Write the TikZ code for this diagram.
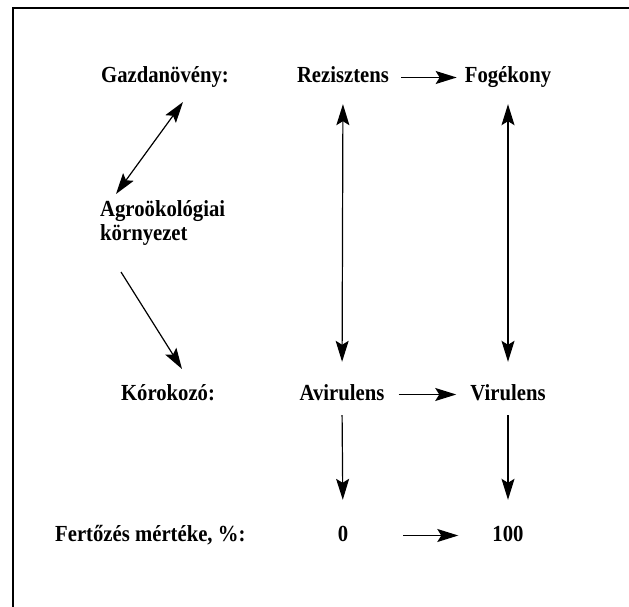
\documentclass[tikz,border=0pt]{standalone}
\usepackage{fontspec}
\setmainfont[FakeStretch=0.9]{Liberation Serif}
\usetikzlibrary{arrows.meta}
\begin{document}
\begin{tikzpicture}[x=1pt,y=-1pt,
  lbl/.style={font=\fontsize{23}{26}\selectfont\bfseries, inner sep=0pt, text height=16pt, text depth=5pt},
  bighead/.tip={Stealth[length=21pt,width=13pt,inset=4pt]},
  conn/.style={line width=1.2pt, -bighead},
  dconn/.style={line width=1.2pt, bighead-bighead},
  frame/.style={line width=2.5pt}]
\useasboundingbox (0,0) rectangle (629,607);
\coordinate (fa) at (12,8);
\coordinate (fb) at (629,8);
\coordinate (fc) at (13,607);
\draw[frame] (fb) -- (fa) ++(1,0) -- (fc);

\node[lbl, anchor=base] (gaz) at (165,83) {Gazdanövény:};
\node[lbl, anchor=base] (rez) at (343,83) {Rezisztens};
\node[lbl, anchor=base] (fog) at (508,83) {Fogékony};
\node[lbl, anchor=base west] (agro) at (100,216) {Agroökológiai};
\node[lbl, anchor=base west] (korny) at (100,240) {környezet};
\node[lbl, anchor=base] (kor) at (168,400) {Kórokozó:};
\node[lbl, anchor=base] (avi) at (342,400) {Avirulens};
\node[lbl, anchor=base] (vir) at (508,400) {Virulens};
\node[lbl, anchor=base west] (fert) at (55,541) {Fertőzés mértéke, \%:};
\node[lbl, anchor=base] (nul) at (343,541) {0};
\node[lbl, anchor=base] (szaz) at (508,541) {100};

\coordinate (d1a) at (116,194);
\coordinate (d1b) at (183,102);
\coordinate (d2a) at (121,272);
\coordinate (d2b) at (182,369);
\draw[dconn] (d1a) -- (d1b);
\draw[conn] (d2a) -- (d2b);

\draw[conn, shorten <=12pt, shorten >=8pt] (rez) -- (fog);
\draw[conn, shorten <=14pt, shorten >=14pt] (avi) -- (vir);
\draw[conn, shorten <=55pt, shorten >=34pt] (nul) -- (szaz);

\draw[dconn, shorten <=16pt, shorten >=22pt] (rez.south) -- (avi.north);
\draw[dconn, shorten <=16pt, shorten >=22pt] (fog.south -| vir.north) -- (vir.north);
\draw[conn, shorten <=10pt, shorten >=25pt] (avi.south) -- (nul.north);
\draw[conn, shorten <=10pt, shorten >=25pt] (vir.south) -- (szaz.north);
\end{tikzpicture}
\end{document}
